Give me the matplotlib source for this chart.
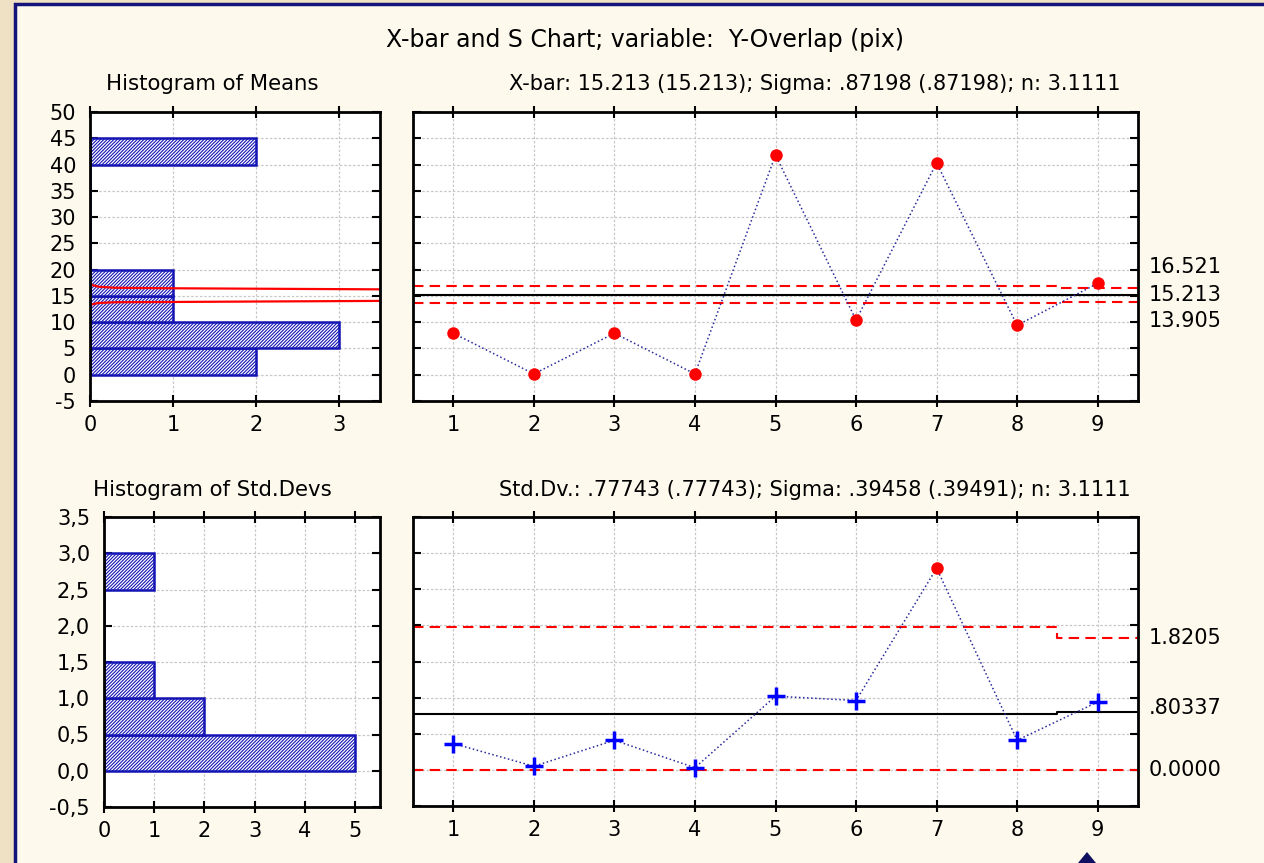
"""
X-bar and S control chart for Y-Overlap (pix), Statistica style.
"""

import numpy as np
import matplotlib
matplotlib.use('Agg')
import matplotlib.pyplot as plt
import matplotlib.ticker as ticker
from matplotlib.patches import Rectangle, Polygon

plt.rcParams['font.family'] = ['DejaVu Sans']
plt.rcParams['hatch.linewidth'] = 0.8
plt.rcParams['axes.unicode_minus'] = False

# ---- data ----
samples = [1, 2, 3, 4, 5, 6, 7, 8, 9]
means = [7.9, 0.15, 7.9, 0.15, 41.8, 10.4, 40.3, 9.4, 17.4]
stdevs = [0.365, 0.05, 0.41, 0.03, 1.02, 0.96, 2.79, 0.41, 0.94]

mean_ucl = [16.8, 16.8, 16.8, 16.8, 16.8, 16.8, 16.8, 16.8, 16.521]
mean_cl = [15.213, 15.213, 15.213, 15.213, 15.213, 15.213, 15.213, 15.213, 15.213]
mean_lcl = [13.6, 13.6, 13.6, 13.6, 13.6, 13.6, 13.6, 13.6, 13.905]

sd_ucl = [1.98, 1.98, 1.98, 1.98, 1.98, 1.98, 1.98, 1.98, 1.8205]
sd_cl = [0.777, 0.777, 0.777, 0.777, 0.777, 0.777, 0.777, 0.777, 0.80337]
sd_lcl = [0.0, 0.0, 0.0, 0.0, 0.0, 0.0, 0.0, 0.0, 0.0]

mean_bins = [0, 5, 10, 15, 20, 25, 30, 35, 40, 45]
sd_bins = [0.0, 0.5, 1.0, 1.5, 2.0, 2.5, 3.0]

# limit lines as drawn inside the histogram of means
hist_ucl_x = [0.0, 0.1, 0.3, 1.0, 3.5]
hist_ucl_y = [17.2, 16.75, 16.55, 16.45, 16.25]
hist_lcl_x = [0.0, 0.1, 0.3, 1.0, 3.5]
hist_lcl_y = [13.3, 13.65, 13.8, 13.85, 14.05]

mean_labels = ['16.521', '15.213', '13.905']
sd_labels = ['1.8205', '.80337', '0.0000']

title = 'X-bar and S Chart; variable:  Y-Overlap (pix)'
mean_title = 'X-bar: 15.213 (15.213); Sigma: .87198 (.87198); n: 3.1111'
sd_title = 'Std.Dv.: .77743 (.77743); Sigma: .39458 (.39491); n: 3.1111'

# ---- styling ----
FS = 15
bar_edge = '#1414b4'
line_col = '#2a2a9a'
grid_col = '#c8c8c8'

fig = plt.figure(figsize=(12.64, 8.63), dpi=100, facecolor='#efe2c4')
fig.patches.append(Rectangle((15 / 1264, -0.05), 1.1, 1 - 4 / 863 + 0.05,
                             transform=fig.transFigure, facecolor='#fef9ed',
                             edgecolor='#14147a', linewidth=2.5, zorder=-5))
# cursor tip visible at the bottom edge
fig.patches.append(Polygon([[1078 / 1264, 0], [1096 / 1264, 0], [1087 / 1264, 11 / 863]],
                           closed=True, transform=fig.transFigure,
                           facecolor='#101060', edgecolor='none', zorder=5))

ax_hm = fig.add_axes([90 / 1264, 1 - 401 / 863, 290 / 1264, 289 / 863])
ax_m = fig.add_axes([413 / 1264, 1 - 401 / 863, 725 / 1264, 289 / 863])
ax_hs = fig.add_axes([104 / 1264, 1 - 807 / 863, 276 / 1264, 290 / 863])
ax_s = fig.add_axes([413 / 1264, 1 - 806 / 863, 725 / 1264, 289 / 863])


def frame(ax):
    ax.set_facecolor('white')
    for sp in ax.spines.values():
        sp.set_linewidth(2)
        sp.set_color('black')
    ax.tick_params(direction='in', length=6, width=1.5, top=True, right=True,
                   labelsize=FS)
    ax.tick_params(axis='y', pad=10)
    ax.tick_params(axis='x', direction='inout', length=8, pad=6)
    ax.grid(True, color=grid_col, linestyle=(0, (2, 1.5)), linewidth=0.9)
    ax.set_axisbelow(True)


def step_line(ax, values, **kw):
    xs = np.append(np.array(samples) - 0.5, samples[-1] + 0.5)
    ys = np.append(values, values[-1])
    ax.step(xs, ys, where='post', **kw)


# ---- histogram of means ----
frame(ax_hm)
counts_m, edges_m = np.histogram(means, bins=mean_bins)
ax_hm.barh(edges_m[:-1], counts_m, height=np.diff(edges_m), align='edge',
           facecolor='white', edgecolor=bar_edge, hatch='//////////', linewidth=1.8)
ax_hm.plot(hist_ucl_x, hist_ucl_y, color='red', lw=1.6)
ax_hm.plot(hist_lcl_x, hist_lcl_y, color='red', lw=1.6)
ax_hm.set_xlim(0, 3.5)
ax_hm.set_ylim(-5, 50)
ax_hm.set_xticks([0, 1, 2, 3])
ax_hm.set_yticks(np.arange(-5, 51, 5))

# ---- X-bar chart ----
frame(ax_m)
step_line(ax_m, mean_ucl, color='red', lw=1.5, dashes=(5, 3))
step_line(ax_m, mean_lcl, color='red', lw=1.5, dashes=(5, 3))
step_line(ax_m, mean_cl, color='black', lw=1.5)
ax_m.plot(samples, means, color=line_col, lw=1.1, linestyle=':')
ax_m.plot(samples, means, 'o', color='red', markersize=9, markeredgewidth=0)
ax_m.set_xlim(0.5, 9.5)
ax_m.set_ylim(-5, 50)
ax_m.set_xticks(samples)
ax_m.set_yticks(np.arange(-5, 51, 5))
ax_m.tick_params(labelleft=False)
for lab, val, off in zip(mean_labels, [mean_ucl[-1], mean_cl[-1], mean_lcl[-1]], [15, 0, -14]):
    ax_m.annotate(lab, xy=(1, val), xycoords=('axes fraction', 'data'),
                  xytext=(8, off), textcoords='offset points',
                  ha='left', va='center', fontsize=FS)

# ---- histogram of std devs ----
frame(ax_hs)
counts_s, edges_s = np.histogram(stdevs, bins=sd_bins)
ax_hs.barh(edges_s[:-1], counts_s, height=np.diff(edges_s), align='edge',
           facecolor='white', edgecolor=bar_edge, hatch='//////////', linewidth=1.8)
ax_hs.set_xlim(0, 5.5)
ax_hs.set_ylim(-0.5, 3.5)
ax_hs.set_xticks([0, 1, 2, 3, 4, 5])
ax_hs.set_yticks(np.arange(-0.5, 3.51, 0.5))
ax_hs.yaxis.set_major_formatter(ticker.FuncFormatter(lambda v, p: f'{v:.1f}'.replace('.', ',')))

# ---- S chart ----
frame(ax_s)
step_line(ax_s, sd_ucl, color='red', lw=1.5, dashes=(5, 3))
step_line(ax_s, sd_lcl, color='red', lw=1.5, dashes=(5, 3))
step_line(ax_s, sd_cl, color='black', lw=1.5)
ax_s.plot(samples, stdevs, color=line_col, lw=1.1, linestyle=':')
sd_arr = np.array(stdevs)
out = (sd_arr > np.array(sd_ucl)) | (sd_arr < np.array(sd_lcl))
ax_s.plot(np.array(samples)[~out], sd_arr[~out], '+', color='#0000ff',
          markersize=13, markeredgewidth=2.5)
ax_s.plot(np.array(samples)[out], sd_arr[out], 'o', color='red',
          markersize=9, markeredgewidth=0)
ax_s.set_xlim(0.5, 9.5)
ax_s.set_ylim(-0.5, 3.5)
ax_s.set_xticks(samples)
ax_s.set_yticks(np.arange(-0.5, 3.51, 0.5))
ax_s.tick_params(labelleft=False)
for lab, val, off in zip(sd_labels, [sd_ucl[-1], sd_cl[-1], sd_lcl[-1]], [0, 3, 0]):
    ax_s.annotate(lab, xy=(1, val), xycoords=('axes fraction', 'data'),
                  xytext=(8, off), textcoords='offset points',
                  ha='left', va='center', fontsize=FS)

# ---- titles ----
fig.text(645 / 1264, 1 - 40 / 863, title, ha='center', va='center', fontsize=17)
fig.text(212 / 1264, 1 - 84 / 863, 'Histogram of Means', ha='center', va='center', fontsize=15.3)
fig.text(815 / 1264, 1 - 84 / 863, mean_title, ha='center', va='center', fontsize=FS)
fig.text(212 / 1264, 1 - 490 / 863, 'Histogram of Std.Devs', ha='center', va='center', fontsize=15.3)
fig.text(815 / 1264, 1 - 490 / 863, sd_title, ha='center', va='center', fontsize=FS)

fig.savefig('out.png', dpi=100, facecolor=fig.get_facecolor())
